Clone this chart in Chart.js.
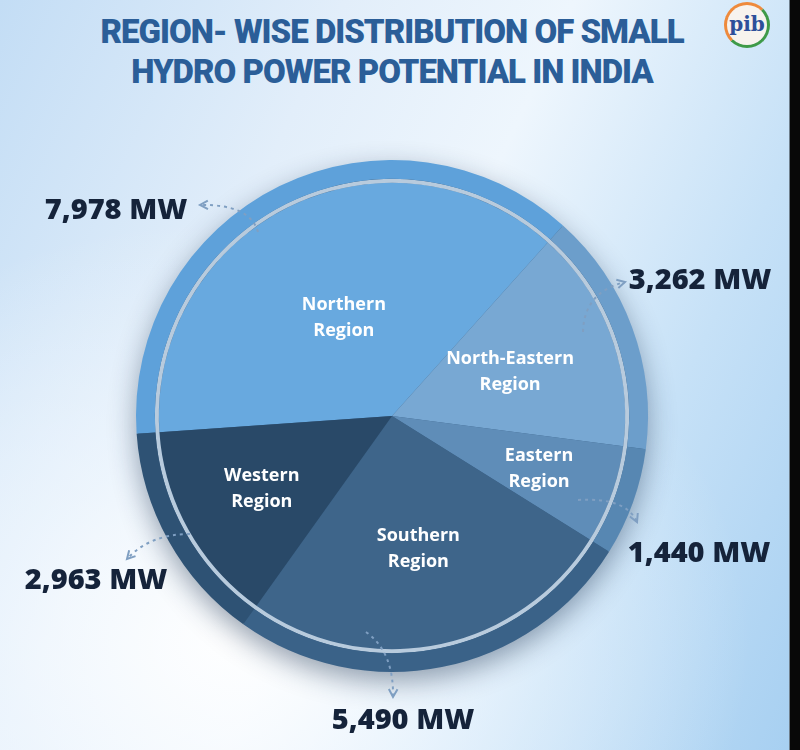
<!DOCTYPE html>
<html lang="en">
<head>
    <meta charset="UTF-8">
    <title>Region-wise Distribution of Small Hydro Power Potential in India</title>
    <script src="https://cdn.jsdelivr.net/npm/chart.js"></script>
    <style>
        html, body {
            margin: 0;
            padding: 0;
        }
        body {
            width: 800px;
            height: 750px;
            position: relative;
            overflow: hidden;
            background:
                radial-gradient(ellipse 520px 420px at 230px 640px, rgba(255,255,255,0.95) 0%, rgba(245,250,255,0.6) 45%, rgba(255,255,255,0) 100%),
                linear-gradient(115deg, #c3ddf5 0%, #e2eefa 30%, #eef6fd 50%, #c6e1f7 75%, #a6cff1 100%);
            font-family: "Open Sans", Arial, sans-serif;
        }
        .title {
            position: absolute;
            left: 0;
            width: 784px;
            top: 12px;
            text-align: center;
            font-family: Roboto, "Open Sans", sans-serif;
            font-weight: 900;
            font-size: 33px;
            line-height: 40px;
            letter-spacing: -1px;
            color: #2b5e98;
        }
        .logo {
            position: absolute;
            left: 724px;
            top: 2px;
            width: 46px;
            height: 46px;
            border-radius: 50%;
            background: #f7f3ee;
            border: 3px solid #ee8a3c;
            border-right-color: #3e9a48;
            border-bottom-color: #3e9a48;
            box-sizing: border-box;
            text-align: center;
            font: bold 20px "DejaVu Serif", serif;
            line-height: 38px;
            color: #2d4f9a;
        }
        .edge {
            position: absolute;
            right: 0;
            top: 0;
            width: 10px;
            height: 750px;
            background: #080808;
            border-left: 1px solid #6f7f8c;
        }
        #wrap {
            position: absolute;
            left: 0;
            top: 0;
            width: 800px;
            height: 750px;
        }
    </style>
</head>
<body>

    <div class="title">REGION- WISE DISTRIBUTION OF SMALL<br>HYDRO POWER POTENTIAL IN INDIA</div>
    <div class="logo">pib</div>

    <div id="wrap">
        <canvas id="hydroChart"></canvas>
    </div>
    <div class="edge"></div>

    <script>
        // data (MW)
        const regions = ['Northern Region', 'North-Eastern Region', 'Eastern Region', 'Southern Region', 'Western Region'];
        const potentialMW = [7978, 3262, 1440, 5490, 2963];

        const innerColors = ['#68a9df', '#78a8d3', '#5f8db8', '#3e658a', '#294968'];
        const outerColors = ['#5ea1da', '#6c9ecb', '#5787b2', '#3a6288', '#2e5274'];

        // where the white region names sit, as a fraction of the pie radius
        const nameRadius = [0.47, 0.54, 0.67, 0.58, 0.64];

        // outside value labels: text centre and dotted arrow (start, control, end)
        const valueLabels = [
            { x: 116, y: 211, path: [[258, 232], [250, 204], [200, 205]] },
            { x: 700, y: 281, path: [[583, 332], [584, 292], [625, 282]] },
            { x: 699, y: 554, path: [[578, 500], [626, 497], [637, 522]] },
            { x: 403, y: 721, path: [[366, 632], [394, 652], [393, 697]] },
            { x: 96, y: 581, path: [[190, 534], [150, 534], [127, 559]] }
        ];

        function fmt(v) {
            return v.toLocaleString('en-US') + ' MW';
        }

        const decorations = {
            id: 'decorations',
            beforeDatasetsDraw(chart) {
                // soft shadow behind the disc
                const arc = chart.getDatasetMeta(0).data[0];
                const ctx = chart.ctx;
                ctx.save();
                ctx.beginPath();
                ctx.arc(arc.x, arc.y, arc.outerRadius - 1, 0, Math.PI * 2);
                ctx.fillStyle = '#3c6388';
                ctx.shadowColor = 'rgba(20, 45, 75, 0.45)';
                ctx.shadowBlur = 28;
                ctx.shadowOffsetY = 10;
                ctx.fill();
                ctx.restore();
            },
            afterDatasetsDraw(chart) {
                const ctx = chart.ctx;
                const meta = chart.getDatasetMeta(2);

                // region names inside the slices
                ctx.save();
                ctx.fillStyle = '#ffffff';
                ctx.font = 'bold 18px "Open Sans", sans-serif';
                ctx.textAlign = 'center';
                ctx.textBaseline = 'middle';
                meta.data.forEach((a, i) => {
                    const mid = (a.startAngle + a.endAngle) / 2;
                    const r = a.outerRadius * nameRadius[i];
                    const cx = a.x + Math.cos(mid) * r;
                    const cy = a.y + Math.sin(mid) * r;
                    const words = regions[i].split(' ');
                    ctx.fillText(words[0], cx, cy - 13);
                    ctx.fillText(words[1], cx, cy + 13);
                });
                ctx.restore();

                // values outside with dotted arrows
                ctx.save();
                valueLabels.forEach((lab, i) => {
                    const p = lab.path;
                    ctx.strokeStyle = '#7f9fc2';
                    ctx.lineWidth = 2;
                    ctx.setLineDash([3, 4]);
                    ctx.beginPath();
                    ctx.moveTo(p[0][0], p[0][1]);
                    ctx.quadraticCurveTo(p[1][0], p[1][1], p[2][0], p[2][1]);
                    ctx.stroke();
                    ctx.setLineDash([]);
                    const ang = Math.atan2(p[2][1] - p[1][1], p[2][0] - p[1][0]);
                    ctx.beginPath();
                    ctx.moveTo(p[2][0] - Math.cos(ang - 0.5) * 9, p[2][1] - Math.sin(ang - 0.5) * 9);
                    ctx.lineTo(p[2][0], p[2][1]);
                    ctx.lineTo(p[2][0] - Math.cos(ang + 0.5) * 9, p[2][1] - Math.sin(ang + 0.5) * 9);
                    ctx.stroke();

                    ctx.fillStyle = '#15233a';
                    ctx.font = '800 29px "Open Sans", sans-serif';
                    ctx.textAlign = 'center';
                    ctx.textBaseline = 'middle';
                    ctx.fillText(fmt(potentialMW[i]), lab.x, lab.y);
                });
                ctx.restore();
            }
        };

        new Chart(document.getElementById('hydroChart'), {
            type: 'pie',
            data: {
                labels: regions,
                datasets: [
                    {
                        data: potentialMW,
                        backgroundColor: outerColors,
                        borderWidth: 0,
                        weight: 19
                    },
                    {
                        data: [1],
                        backgroundColor: ['rgba(225, 238, 250, 0.75)'],
                        borderWidth: 0,
                        weight: 4
                    },
                    {
                        data: potentialMW,
                        backgroundColor: innerColors,
                        borderWidth: 0,
                        weight: 235
                    }
                ]
            },
            options: {
                responsive: true,
                maintainAspectRatio: false,
                animation: false,
                rotation: 266,
                layout: {
                    padding: { left: 136, right: 152, top: 160, bottom: 78 }
                },
                plugins: {
                    legend: { display: false },
                    tooltip: { enabled: false }
                }
            },
            plugins: [decorations]
        });
    </script>

</body>
</html>
